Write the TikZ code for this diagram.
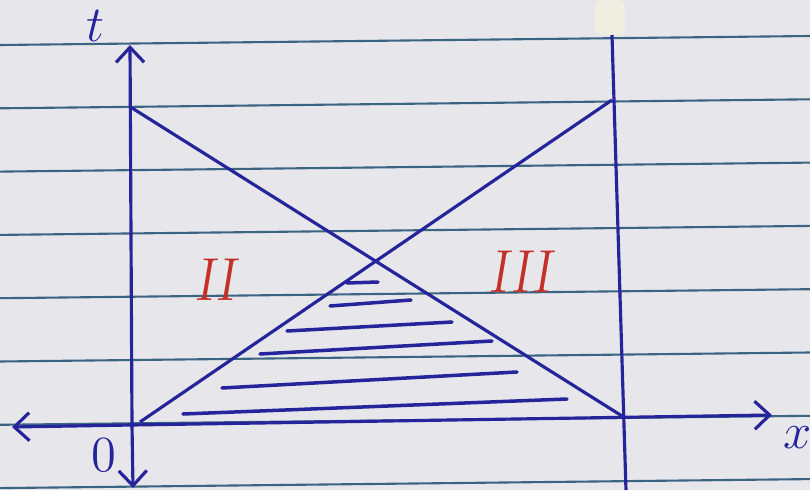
\documentclass[tikz,border=0pt]{standalone}
\usepackage{tikz}
\usetikzlibrary{arrows.meta}
\definecolor{paper}{RGB}{231,231,235}
\definecolor{ruling}{RGB}{58,100,130}
\definecolor{bluepen}{RGB}{38,36,155}
\definecolor{redpen}{RGB}{196,48,40}
\definecolor{tape}{RGB}{240,238,224}

\begin{document}
\begin{tikzpicture}[
    rule/.style={ruling, line width=0.6pt},
    penline/.style={bluepen, line width=0.9pt},
    hatch/.style={bluepen, line width=1pt, line cap=round},
    axis/.style={bluepen, line width=0.9pt, -{Straight Barb[length=1.5mm,width=2.8mm]}},
    numeral/.style={text=redpen, font=\LARGE\slshape},
    every node/.style={font=\Large, text=bluepen}]
  \useasboundingbox (0,0) rectangle (8.1,4.9);
  \fill[paper] (0,0) rectangle (8.1,4.9);
  \fill[tape, rounded corners=2pt] (5.95,4.55) rectangle (6.25,4.9);
  % ruled lines of the paper
  \foreach \k in {0,...,7}
    \draw[rule] (0,{4.45-0.633*\k}) -- (8.1,{4.54-0.633*\k});
  % axes
  \coordinate (O) at (1.32,0.65);
  \coordinate (tTop) at (1.30,4.45);
  \coordinate (tBot) at (1.33,0.02);
  \coordinate (xLeft) at (0.12,0.63);
  \coordinate (xRight) at (7.72,0.75);
  \draw[axis] (O) -- (tTop);
  \draw[axis] (O) -- (tBot);
  \draw[axis] (O) -- (xLeft);
  \draw[axis] (O) -- (xRight);
  \node (tlab) at (0.95,4.64) {$t$};
  \node (olab) at (1.04,0.35) {0};
  \node (xlab) at (7.98,0.52) {$x$};
  % right boundary
  \coordinate (LTop) at (6.12,4.55);
  \coordinate (LBot) at (6.26,0.0);
  \draw[penline] (LTop) -- (LBot);
  % characteristics
  \coordinate (A) at (1.32,3.82);
  \coordinate (B) at (6.22,0.74);
  \coordinate (C) at (1.40,0.68);
  \coordinate (D) at (6.12,3.90);
  \draw[penline] (A) -- (B);
  \draw[penline] (C) -- (D);
  % shaded triangle
  \draw[hatch] (3.47,2.07) -- (3.78,2.08);
  \draw[hatch] (3.30,1.84) -- (4.11,1.90);
  \draw[hatch] (2.87,1.59) -- (4.52,1.68);
  \draw[hatch] (2.60,1.36) -- (4.92,1.49);
  \draw[hatch] (2.22,1.02) -- (5.17,1.18);
  \draw[hatch] (1.83,0.76) -- (5.67,0.91);
  % regions
  \node[numeral] (II) at (2.15,2.10) {II};
  \node[numeral] (III) at (5.20,2.18) {III};
\end{tikzpicture}
\end{document}
